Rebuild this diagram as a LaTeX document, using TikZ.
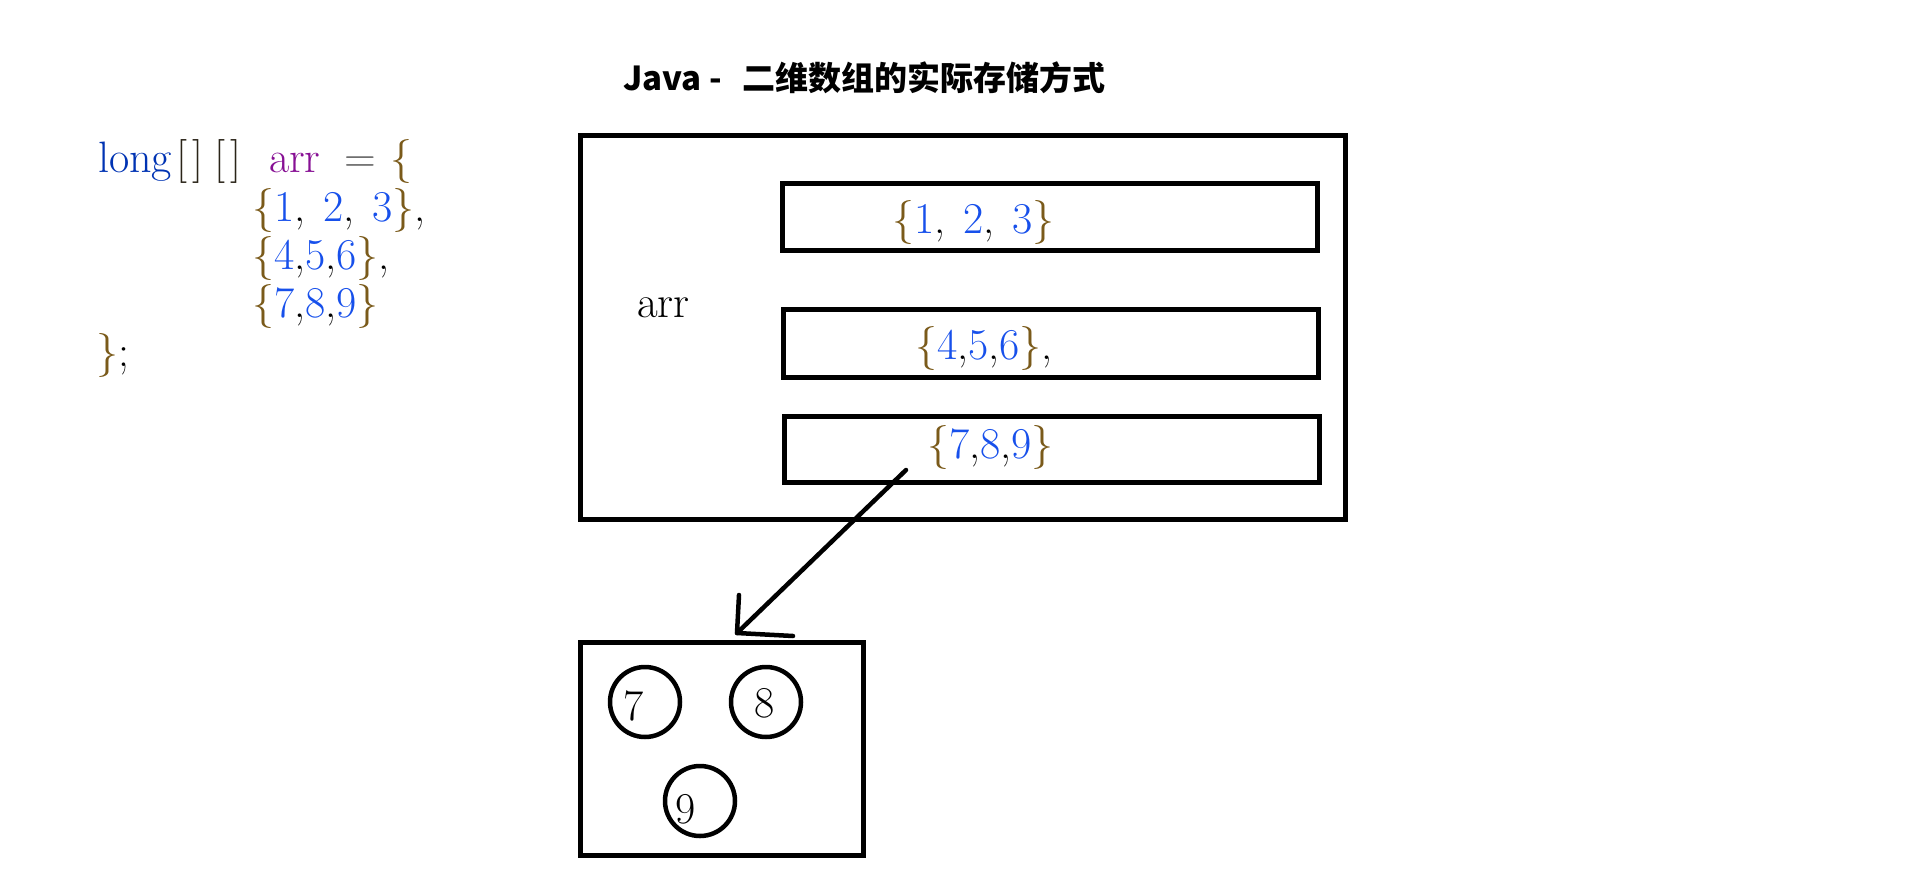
\documentclass[tikz,border=0pt]{standalone}
\usepackage{fontspec}
\newfontfamily\cjk{Noto Sans CJK SC}
\definecolor{kw}{HTML}{0033B3}
\definecolor{fld}{HTML}{871094}
\definecolor{num}{HTML}{1750EB}
\definecolor{brc}{HTML}{7A5A1A}
\definecolor{brk}{HTML}{2A2418}
\definecolor{opr}{HTML}{5A5A5A}
\newcommand{\codefont}{\fontsize{44}{52}\selectfont}
\newcommand{\N}[1]{\textcolor{num}{#1}}
\newcommand{\B}[1]{\textcolor{brc}{#1}}
\begin{document}
\begin{tikzpicture}[x=1pt,y=-1pt,
  txt/.style={inner sep=0pt,outer sep=0pt,anchor=base west,font=\codefont},
  box/.style={draw=black,line width=5pt,fill=none},
  circ/.style={circle,draw=black,line width=4.5pt,minimum size=70pt,inner sep=0pt},
  digit/.style={inner sep=0pt,anchor=base,font=\codefont},
  hand/.style={line width=4.5pt,line cap=round,line join=round}]
\useasboundingbox (0,0) rectangle (1914,878);
% title
\node[inner sep=0pt,anchor=base west,font={\cjk\bfseries\fontsize{33}{38}\selectfont}] (title) at (623,90) {Java -\hspace{20pt}二维数组的实际存储方式};
% code
\node[txt] (c1a) at (98,172) {\textcolor{kw}{long}};
\node[txt] (c1b) at (176,172) {\textcolor{brk}{[}};
\node[txt] (c1c) at (192,172) {\textcolor{brk}{]}};
\node[txt] (c1d) at (214,172) {\textcolor{brk}{[}};
\node[txt] (c1e) at (230,172) {\textcolor{brk}{]}};
\node[txt] (c1f) at (269,172) {\textcolor{fld}{arr}};
\node[txt] (c1g) at (344,172) {\textcolor{opr}{=}};
\node[txt] (c1h) at (390,172) {\B{\{}};
\node[txt] (c2) at (252,221) {\B{\{}\N{1},\hspace{18pt}\N{2},\hspace{18pt}\N{3}\B{\}},};
\node[txt] (c3) at (252,269) {\B{\{}\N{4},\N{5},\N{6}\B{\}},};
\node[txt] (c4) at (252,317) {\B{\{}\N{7},\N{8},\N{9}\B{\}}};
\node[txt] (c5) at (96,366) {\B{\}};};
% outer box
\draw[box] (580,135) rectangle (1345,519);
\node[txt,font=\fontsize{45}{52}\selectfont] (arrlbl) at (637,317) {arr};
\draw[box] (782,183) rectangle (1317,250);
\draw[box] (783,309) rectangle (1318,377);
\draw[box] (784,416) rectangle (1319,482);
\node[txt] (r1) at (892,233) {\B{\{}\N{1},\hspace{18pt}\N{2},\hspace{18pt}\N{3}\B{\}}};
\node[txt] (r2) at (915,359) {\B{\{}\N{4},\N{5},\N{6}\B{\}},};
\node[txt] (r3) at (927,458) {\B{\{}\N{7},\N{8},\N{9}\B{\}}};
% bottom box
\draw[box] (580,642) rectangle (863,855);
\node[circ] (o7) at (645,702) {};
\node[circ] (o8) at (766,702) {};
\node[circ] (o9) at (700,801) {};
\node[digit] (d7) at (634,720) {7};
\node[digit] (d8) at (765,717) {8};
\node[digit] (d9) at (686,823) {9};
% arrow
\coordinate (as) at (906,470);
\coordinate (at) at (737,633);
\coordinate (ha) at (739,595);
\coordinate (hb) at (793,636);
\draw[hand] (as) -- (at);
\draw[hand] (ha) -- (at) -- (hb);
\end{tikzpicture}
\end{document}
